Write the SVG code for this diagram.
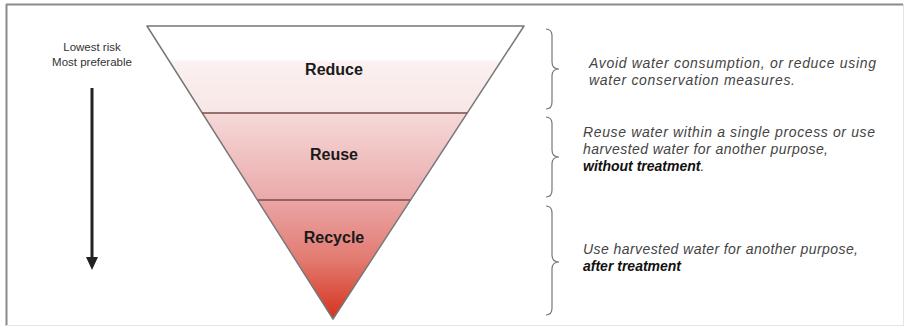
<svg xmlns="http://www.w3.org/2000/svg" width="908" height="328" viewBox="0 0 908 328">
<style>
.lbl{font-family:"Liberation Sans",Arial,sans-serif;font-size:16px;font-weight:bold;fill:#1a1a1a;text-anchor:middle}
.side{font-family:"Liberation Sans",Arial,sans-serif;font-size:11.5px;fill:#333;text-anchor:middle}
.desc{font-family:"Liberation Sans",Arial,sans-serif;font-size:14px;font-style:italic;fill:#444}
.desc .b{font-weight:bold;fill:#111}
.brace{fill:none;stroke:#777;stroke-width:1.2}
.div{stroke:#7a4c48;stroke-width:1.5}
</style>
<defs>
<linearGradient id="g1" gradientUnits="userSpaceOnUse" x1="0" y1="26" x2="0" y2="113">
<stop offset="0" stop-color="#ffffff"/>
<stop offset="0.38" stop-color="#ffffff"/>
<stop offset="0.42" stop-color="#fcf0f0"/>
<stop offset="1" stop-color="#f8e6e6"/>
</linearGradient>
<linearGradient id="g2" gradientUnits="userSpaceOnUse" x1="0" y1="113" x2="0" y2="200">
<stop offset="0" stop-color="#f6d9d9"/>
<stop offset="1" stop-color="#eaa9a9"/>
</linearGradient>
<linearGradient id="g3" gradientUnits="userSpaceOnUse" x1="0" y1="200" x2="0" y2="320">
<stop offset="0" stop-color="#eaa6a6"/>
<stop offset="0.5" stop-color="#e27a70"/>
<stop offset="1" stop-color="#d6301c"/>
</linearGradient>
</defs>
<rect x="0" y="0" width="908" height="328" fill="#ffffff"/>
<g id="frame">
<line x1="6" y1="4.5" x2="903" y2="4.5" stroke="#8a8a8a" stroke-width="2"/>
<line x1="6.5" y1="4" x2="6.5" y2="326" stroke="#8a8a8a" stroke-width="2"/>
<line x1="903.5" y1="4" x2="903.5" y2="326" stroke="#e4e4e4" stroke-width="1"/>
<line x1="6" y1="325.5" x2="903" y2="325.5" stroke="#e4e4e4" stroke-width="1"/>
</g>
<g id="node-reduce">
<polygon points="147,26 524,26 467,113 202,113" fill="url(#g1)"/>
<text class="lbl" x="334" y="75">Reduce</text>
</g>
<g id="node-reuse">
<polygon points="202,113 467,113 410,200 258,200" fill="url(#g2)"/>
<text class="lbl" x="334" y="160">Reuse</text>
</g>
<g id="node-recycle">
<polygon points="258,200 410,200 333,319" fill="url(#g3)"/>
<text class="lbl" x="334" y="243">Recycle</text>
</g>
<g id="pyramid-lines">
<polygon points="147,26 524,26 333,319" fill="none" stroke="#777" stroke-width="1.5" stroke-linejoin="round"/>
<line class="div" x1="202" y1="113" x2="467" y2="113"/>
<line class="div" x1="258" y1="200" x2="410" y2="200"/>
</g>
<g id="node-side">
<text class="side" x="92" y="51">Lowest risk</text>
<text class="side" x="92" y="66">Most preferable</text>
</g>
<g id="connectors">
<line x1="92" y1="88" x2="92" y2="258" stroke="#222" stroke-width="3"/>
<polygon points="86,257 98,257 92,270" fill="#222"/>
<path class="brace" d="M546 29 Q552 29 552 36 L552 62 Q552 69 559 69 Q552 69 552 76 L552 102 Q552 109 546 109"/>
<path class="brace" d="M546 117 Q552 117 552 124 L552 150 Q552 157 559 157 Q552 157 552 164 L552 190 Q552 197 546 197"/>
<path class="brace" d="M546 206 Q552 206 552 213 L552 255 Q552 262 559 262 Q552 262 552 269 L552 308 Q552 315 546 315"/>
</g>
<g id="node-desc-reduce">
<text class="desc" x="589" y="68" textLength="287" lengthAdjust="spacing">Avoid water consumption, or reduce using</text>
<text class="desc" x="589" y="85" textLength="206" lengthAdjust="spacing">water conservation measures.</text>
</g>
<g id="node-desc-reuse">
<text class="desc" x="583" y="137" textLength="292" lengthAdjust="spacing">Reuse water within a single process or use</text>
<text class="desc" x="583" y="154" textLength="245" lengthAdjust="spacing">harvested water for another purpose,</text>
<text class="desc" x="583" y="171"><tspan class="b">without treatment</tspan>.</text>
</g>
<g id="node-desc-recycle">
<text class="desc" x="583" y="254" textLength="275" lengthAdjust="spacing">Use harvested water for another purpose,</text>
<text class="desc" x="583" y="271"><tspan class="b">after treatment</tspan></text>
</g>
</svg>
